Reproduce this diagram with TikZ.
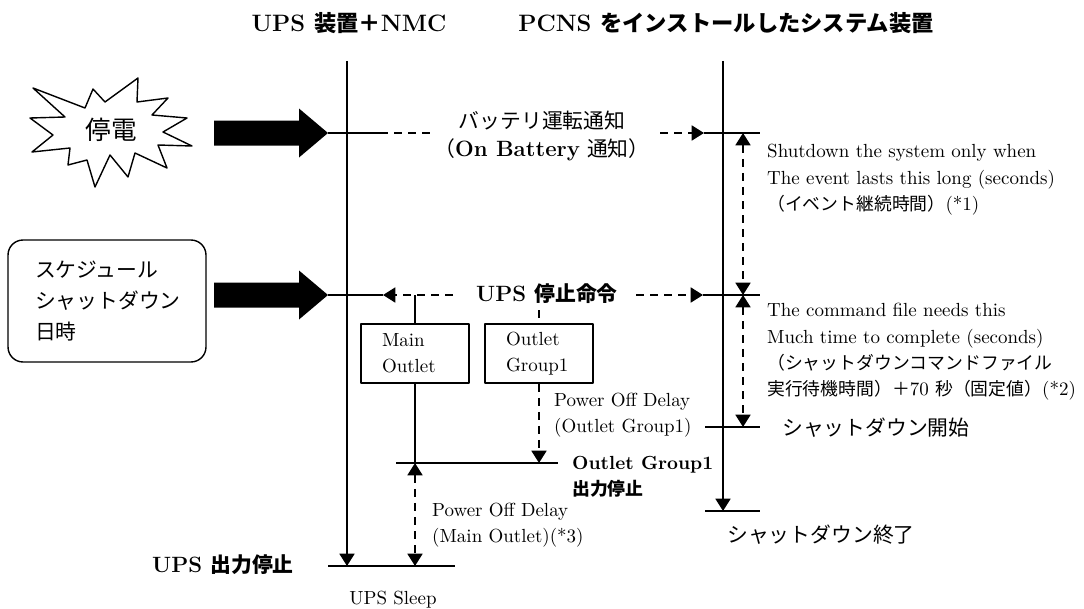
\documentclass[tikz,border=0pt]{standalone}
\usepackage{fontspec}
\newfontfamily\jp[Scale=0.94]{Noto Sans CJK JP}
\usetikzlibrary{arrows.meta,positioning}
\newcommand\fsmall{\fontsize{10.8}{15}\selectfont}
\newcommand\fmid{\fontsize{12.6}{15.5}\selectfont}
\newcommand\fbig{\fontsize{13.5}{16}\selectfont}
\tikzset{
	tline/.style={line width=1.15pt},
	hline/.style={line width=0.75pt},
	dline/.style={line width=1.15pt,dash pattern=on 4.5pt off 3.5pt},
	outbox/.style={draw,line width=0.8pt,minimum width=2.16cm,minimum height=1.18cm,inner xsep=0.42cm,text width=1.32cm,align=left,font=\fsmall},
	note/.style={anchor=west,align=left,font=\fsmall}
}
\begin{document}
\begin{tikzpicture}[x=0.02cm,y=-0.02cm,>={Triangle[length=7pt,width=8.5pt]},line join=round]
	\useasboundingbox (0,0) rectangle (1084,608);
	\path
	(347,61) coordinate (upsT)
	(347,566) coordinate (upsB)
	(723,61) coordinate (pcT)
	(723,511) coordinate (pcB)
	(415,463) coordinate (ogOff)
	(743,427) coordinate (sdStart);
	% titles
	\node[font=\fbig\bfseries] (tups) at (349,23) {UPS {\jp 装置＋}NMC};
	\node[font=\fbig\bfseries] (tpc) at (726,23) {PCNS {\jp をインストールしたシステム装置}};
	% time lines
	\draw[tline,->] (upsT)--(upsB);
	\draw[tline,->] (pcT)--(pcB);
	% power failure
	\draw[line width=0.8pt] (33,88)--(85,108)--(93,89)--(105,102)--(138,78)--(137,102)--(168,98)--(152,115)--(187,118)--(163,132)--(192,146)--(158,145)--(167,168)--(135,153)--(128,177)--(110,155)--(95,187)--(87,160)--(68,165)--(70,148)--(32,152)--(53,135)--(30,118)--(65,117)--cycle;
	\node[font=\fontsize{15.5}{18}\selectfont\jp] (teiden) at (111,130) {停電};
	\node[draw,rounded corners=0.3cm,line width=0.8pt,minimum width=3.96cm,minimum height=2.44cm,inner xsep=0.54cm,text width=2.88cm,align=left,font=\fontsize{12.6}{17.5}\selectfont\jp] (sched) at (107,301) {スケジュール\\シャットダウン\\日時};
	% block arrows
	\foreach \y in {133,295}
	\fill (214,{\y-12.5})--(299,{\y-12.5})--(299,{\y-24.5})--(328,\y)--(299,{\y+24.5})--(299,{\y+12.5})--(214,{\y+12.5})--cycle;
	% on battery
	\draw[hline] (328,133)--(380,133) (704,133)--(760,133);
	\draw[dline] (380,133)--(430,133);
	\draw[dline,->] (660,133)--(704,133);
	\node[font=\fmid,align=center] (bat) at (542,136) {{\jp バッテリ運転通知}\\{\jp （}\textbf{On Battery} {\jp 通知）}};
	% ups stop command
	\node[font=\fmid\bfseries] (cmd) at (547,294) {UPS {\jp 停止命令}};
	\draw[hline] (328,295)--(383,295) (703,295)--(760,295);
	\draw[dline,->] (453,295)--(383,295);
	\draw[dline,->] (636,295)--(703,295);
	\node[outbox] (mainout) at (415,353.5) {Main\\Outlet};
	\node[outbox] (og1) at (539,353.5) {Outlet\\Group1};
	\draw[hline] (mainout.north)--(mainout.north |- 0,295);
	\draw[dline] (cmd.south -| og1.north)--(og1.north);
	\draw[hline] (mainout.south)--(ogOff);
	\draw[dline,->] (og1.south)--(og1.south |- ogOff);
	\draw[hline] (396,463)--(558,463);
	\node[note] (podog) at (548,415) {Power Off Delay\\(Outlet Group1)};
	\node[anchor=west,align=left,font=\fsmall\bfseries] (ogstop) at (566,477) {Outlet Group1\\{\jp 出力停止}};
	% ups output off
	\draw[dline,<->] (ogOff)--(ogOff |- upsB);
	\draw[hline] (328,566)--(455,566);
	\node[note] (podmain) at (426,525) {Power Off Delay\\(Main Outlet)(*3)};
	\node[anchor=east,font=\fmid\bfseries] (upsstop) at (300,565) {UPS {\jp 出力停止}};
	\node[font=\fsmall] (sleep) at (393,600) {UPS Sleep};
	% pcns side
	\draw[dline,<->] (743,133)--(743,295);
	\draw[dline,<->] (743,295)--(sdStart);
	\draw[hline] (705,427)--(760,427) (705,511)--(760,511);
	\node[note] (evt) at (761,180) {Shutdown the system only when\\The event lasts this long (seconds)\\{\jp （イベント継続時間）}(*1)};
	\node[note] (cmdf) at (761,352) {The command file needs this\\Much time to complete (seconds)\\{\jp （シャットダウンコマンドファイル}\\{\jp 実行待機時間）＋}70 {\jp 秒（固定値）}(*2)};
	\node[anchor=west,font=\fmid\jp] (sdbeg) at (776,428) {シャットダウン開始};
	\node[font=\fmid\jp] (sdend) at (821,535) {シャットダウン終了};
\end{tikzpicture}
\end{document}
